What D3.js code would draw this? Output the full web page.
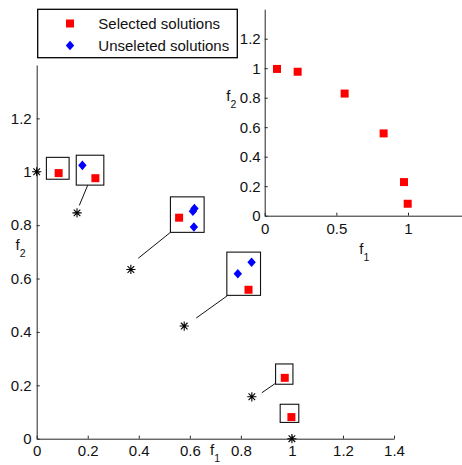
<!DOCTYPE html>
<html>
<head>
<meta charset="utf-8">
<script src="https://cdn.jsdelivr.net/npm/d3@7"></script>
<style>
  body { margin: 0; background: #fff; }
  svg { display: block; }
  text { font-family: "Liberation Sans", Arial, Helvetica, sans-serif; }
</style>
</head>
<body>
<svg id="chart" width="462" height="465"></svg>
<script>
// Selected solutions (f1, f2)
const selectedF1 = [0.086, 0.23, 0.558, 0.83, 0.972, 0.998];
const selectedF2 = [0.995, 0.976, 0.828, 0.558, 0.228, 0.081];

// Unselected solutions (f1, f2)
const unselectedF1 = [0.179, 0.612, 0.618, 0.616, 0.788, 0.842];
const unselectedF2 = [1.024, 0.852, 0.862, 0.793, 0.618, 0.661];

// Reference points (asterisks)
const refF1 = [0, 0.158, 0.369, 0.578, 0.843, 1.0];
const refF2 = [1.0, 0.846, 0.634, 0.422, 0.157, 0.0];

// Cluster boxes in data units: [f1 min, f1 max, f2 min, f2 max]
const clusterBoxes = [
  [0.038, 0.127, 0.972, 1.054],
  [0.155, 0.263, 0.950, 1.062],
  [0.524, 0.656, 0.773, 0.906],
  [0.745, 0.877, 0.537, 0.699],
  [0.936, 1.004, 0.204, 0.280],
  [0.954, 1.027, 0.061, 0.129]
];

// Leader lines in data units: [f1 start, f2 start, f1 end, f2 end]
const leaderLines = [
  [0.200, 0.950, 0.167, 0.874],
  [0.524, 0.773, 0.398, 0.676],
  [0.749, 0.537, 0.625, 0.452],
  [0.935, 0.207, 0.882, 0.172]
];

// Tick values
const mainXTicks = [0, 0.2, 0.4, 0.6, 0.8, 1, 1.2, 1.4];
const mainYTicks = [0, 0.2, 0.4, 0.6, 0.8, 1, 1.2];
const insetXTicks = [0, 0.5, 1];
const insetYTicks = [0, 0.2, 0.4, 0.6, 0.8, 1, 1.2];

// Legend entries
const legendLabels = ["Selected solutions", "Unseleted solutions"];

const svg = d3.select("#chart");

const RED = "#ff0000";
const BLUE = "#0000ff";
const FONT = 15;

const sqPath = s => `M${-s / 2},${-s / 2}h${s}v${s}h${-s}Z`;
const diamondPath = (w, h) => `M0,${-h}L${w},0L0,${h}L${-w},0Z`;
const starPath = r => {
  const d = r * 0.72;
  return `M${-r},0H${r}M0,${-r}V${r}M${-d},${-d}L${d},${d}M${-d},${d}L${d},${-d}`;
};

function drawAxes(g, x, y, xTicks, yTicks, padX, padY) {
  const xAxis = d3.axisBottom(x)
    .tickValues(xTicks).tickFormat(d => String(d))
    .tickSizeInner(-3).tickSizeOuter(0).tickPadding(padX);
  const yAxis = d3.axisLeft(y)
    .tickValues(yTicks).tickFormat(d => String(d))
    .tickSizeInner(-3).tickSizeOuter(0).tickPadding(padY);

  const gx = g.append("g").attr("transform", `translate(0,${y(0)})`).call(xAxis);
  const gy = g.append("g").attr("transform", `translate(${x(0)},0)`).call(yAxis);

  [gx, gy].forEach(a => {
    a.attr("font-family", null).attr("font-size", null);
    a.select(".domain").attr("stroke", "#262626").attr("stroke-width", 1);
    a.selectAll(".tick line").attr("stroke", "#262626").attr("stroke-width", 1);
    a.selectAll(".tick text").attr("fill", "#111").style("font-size", FONT + "px");
  });
}

function subLabel(g, x, y, base, sub) {
  const t = g.append("text").attr("x", x).attr("y", y)
    .attr("fill", "#111").style("font-size", FONT + "px").text(base);
  t.append("tspan").attr("dy", 7)
    .style("font-size", "10.5px").text(sub);
}

// ---------- Main axes ----------
const x = d3.scaleLinear().domain([0, 1.4]).range([36.7, 394]);
const y = d3.scaleLinear().domain([0, 1.4]).range([438.7, 65]);
const main = svg.append("g");

drawAxes(main, x, y, mainXTicks, mainYTicks, 7, 5);

subLabel(main, 210, 455, "f", "1");
subLabel(main, 15.5, 249.5, "f", "2");

// Cluster boxes
main.selectAll("rect.cluster").data(clusterBoxes).join("rect")
  .attr("class", "cluster")
  .attr("x", d => x(d[0])).attr("y", d => y(d[3]))
  .attr("width", d => x(d[1]) - x(d[0])).attr("height", d => y(d[2]) - y(d[3]))
  .attr("fill", "none").attr("stroke", "#111").attr("stroke-width", 1.1);

// Leader lines
main.selectAll("line.leader").data(leaderLines).join("line")
  .attr("class", "leader")
  .attr("x1", d => x(d[0])).attr("y1", d => y(d[1]))
  .attr("x2", d => x(d[2])).attr("y2", d => y(d[3]))
  .attr("stroke", "#111").attr("stroke-width", 1);

// Reference points
main.selectAll("path.ref").data(d3.range(refF1.length)).join("path")
  .attr("class", "ref")
  .attr("transform", i => `translate(${x(refF1[i])},${y(refF2[i])})`)
  .attr("d", starPath(4.6))
  .attr("fill", "none").attr("stroke", "#000").attr("stroke-width", 1.1);

// Selected
main.selectAll("path.sel").data(d3.range(selectedF1.length)).join("path")
  .attr("class", "sel")
  .attr("transform", i => `translate(${x(selectedF1[i])},${y(selectedF2[i])})`)
  .attr("d", sqPath(8)).attr("fill", RED);

// Unselected
main.selectAll("path.unsel").data(d3.range(unselectedF1.length)).join("path")
  .attr("class", "unsel")
  .attr("transform", i => `translate(${x(unselectedF1[i])},${y(unselectedF2[i])})`)
  .attr("d", diamondPath(4.2, 4.8)).attr("fill", BLUE);

// ---------- Inset axes ----------
const xi = d3.scaleLinear().domain([0, 1.4]).range([264.7, 465.3]);
const yi = d3.scaleLinear().domain([0, 1.4]).range([215.7, 9.2]);
const inset = svg.append("g");

drawAxes(inset, xi, yi, insetXTicks, insetYTicks, 7.5, 4);

subLabel(inset, 359.3, 253.5, "f", "1");
subLabel(inset, 226.3, 100.5, "f", "2");

inset.selectAll("path.sel").data(d3.range(selectedF1.length)).join("path")
  .attr("class", "sel")
  .attr("transform", i => `translate(${xi(selectedF1[i])},${yi(selectedF2[i])})`)
  .attr("d", sqPath(8)).attr("fill", RED);

// ---------- Legend ----------
const legend = svg.append("g");
legend.append("rect")
  .attr("x", 37.7).attr("y", 9.3).attr("width", 199.6).attr("height", 48.4)
  .attr("fill", "#fff").attr("stroke", "#000").attr("stroke-width", 1.3);

const legendRows = legend.selectAll("g.row").data(legendLabels).join("g")
  .attr("class", "row")
  .attr("transform", (d, i) => `translate(0,${i * 22})`);

legendRows.append("path")
  .attr("transform", "translate(70,23.5)")
  .attr("d", (d, i) => i === 0 ? sqPath(8) : diamondPath(4.2, 4.8))
  .attr("fill", (d, i) => i === 0 ? RED : BLUE);

legendRows.append("text")
  .attr("x", 98.3).attr("y", 29.2)
  .attr("fill", "#111").style("font-size", FONT + "px")
  .text(d => d);
</script>
</body>
</html>
